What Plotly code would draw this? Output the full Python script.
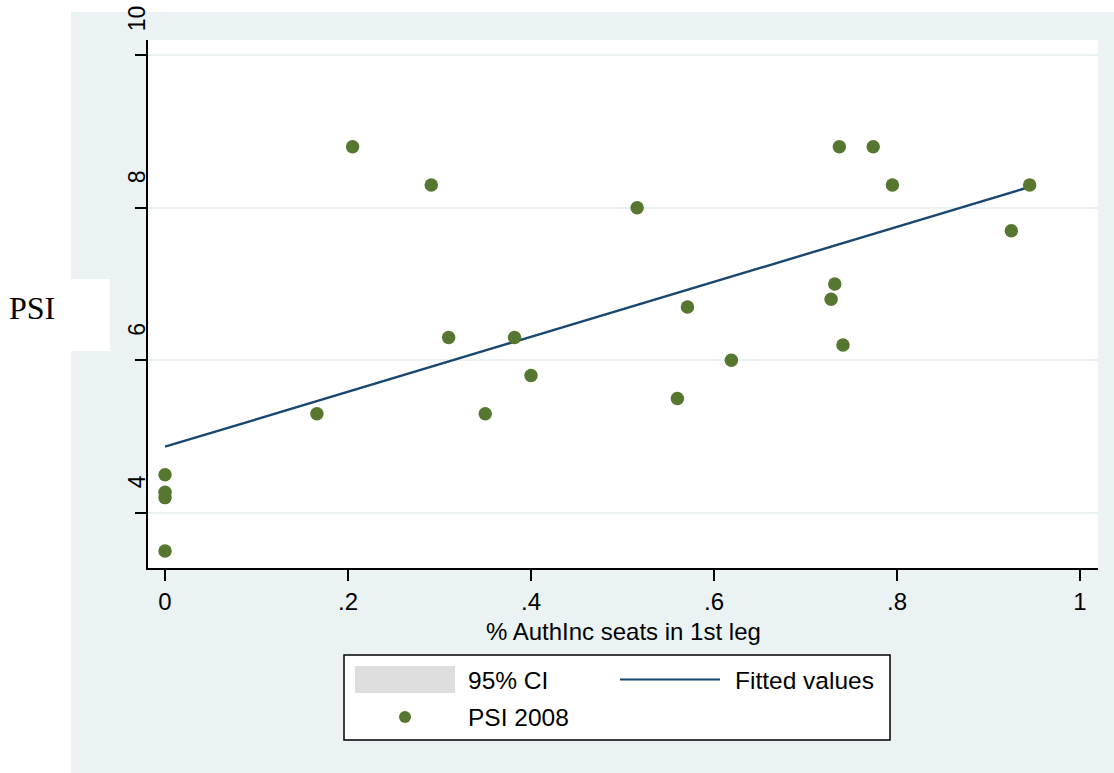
import numpy as np
import plotly.graph_objects as go

# Share of authoritarian-incumbent seats in the first legislature, and PSI 2008
auth_share = [0.0, 0.0, 0.0, 0.0, 0.166, 0.205, 0.291, 0.310, 0.350, 0.382, 0.400,
              0.516, 0.560, 0.571, 0.619, 0.728, 0.732, 0.737, 0.741, 0.774,
              0.795, 0.925, 0.945]
psi_2008 = [4.5, 4.27, 4.2, 3.5, 5.3, 8.8, 8.3, 6.3, 5.3, 6.3, 5.8,
            8.0, 5.5, 6.7, 6.0, 6.8, 7.0, 8.8, 6.2, 8.8,
            8.3, 7.7, 8.3]

x_ticks = [0, 0.2, 0.4, 0.6, 0.8, 1.0]
x_ticktext = ["0", ".2", ".4", ".6", ".8", "1"]
y_ticks = [4, 6, 8, 10]
y_ticktext = ["4", "6", "8", "10"]

BG = "#EAF2F3"
GREEN = "#56772F"
NAVY = "#1A476F"
FONT = "Liberation Sans, Arial, sans-serif"

W, H = 1114, 773
L, R, T, B = 148, 16, 40, 205
PW, PH = W - L - R, H - T - B


def px(xp):
    return (xp - L) / PW


def py(yp):
    return (H - B - yp) / PH


# Least-squares fit of PSI on seat share
slope, intercept = np.polyfit(auth_share, psi_2008, 1)
fit_x = np.linspace(min(auth_share), max(auth_share), 60)
fit_y = intercept + slope * fit_x

fig = go.Figure()
fig.add_trace(go.Scatter(x=fit_x, y=fit_y, mode="lines",
                         line=dict(color=NAVY, width=2.4),
                         name="Fitted values", showlegend=False,
                         hoverinfo="skip"))
fig.add_trace(go.Scatter(x=auth_share, y=psi_2008, mode="markers",
                         marker=dict(color=GREEN, size=13.5, symbol="circle"),
                         name="PSI 2008", showlegend=False))

shapes = [
    # outer graph region
    dict(type="rect", xref="paper", yref="paper", x0=px(71), x1=px(W + 2),
         y0=py(12), y1=py(H + 2), fillcolor=BG, line_width=0, layer="below"),
    # plot region
    dict(type="rect", xref="paper", yref="paper", x0=0, x1=1, y0=0, y1=1,
         fillcolor="white", line_width=0, layer="below"),
    # box behind the y title
    dict(type="rect", xref="paper", yref="paper", x0=px(-2), x1=px(110),
         y0=py(279), y1=py(351), fillcolor="white", line_width=0, layer="below"),
    # legend frame
    dict(type="rect", xref="paper", yref="paper", x0=px(344), x1=px(890),
         y0=py(655), y1=py(740), fillcolor="white",
         line=dict(color="black", width=1.5)),
    # CI swatch
    dict(type="rect", xref="paper", yref="paper", x0=px(355), x1=px(455),
         y0=py(666), y1=py(693), fillcolor="#DEDEDE", line_width=0),
    # fitted line key
    dict(type="line", xref="paper", yref="paper", x0=px(620), x1=px(720),
         y0=py(679.5), y1=py(679.5), line=dict(color=NAVY, width=2)),
    # marker key
    dict(type="circle", xref="paper", yref="paper", x0=px(399), x1=px(411),
         y0=py(711), y1=py(723), fillcolor=GREEN, line_width=0),
]

annotations = []
for v, t in zip(y_ticks, y_ticktext):
    annotations.append(dict(x=px(137), y=v, xref="paper", yref="y", text=t,
                            textangle=-90, showarrow=False, xanchor="center",
                            yanchor="bottom", yshift=22,
                            font=dict(family=FONT, size=23, color="black")))

annotations += [
    dict(x=px(32), y=py(308), xref="paper", yref="paper", text="PSI",
         showarrow=False, xanchor="center", yanchor="middle",
         font=dict(family="Liberation Serif, Times New Roman, serif", size=32,
                   color="black")),
    dict(x=0.5, y=py(631), xref="paper", yref="paper",
         text="% AuthInc seats in 1st leg", showarrow=False,
         xanchor="center", yanchor="middle",
         font=dict(family=FONT, size=24, color="black")),
    dict(x=px(466), y=py(680), xref="paper", yref="paper", text="95% CI",
         showarrow=False, xanchor="left", yanchor="middle",
         font=dict(family=FONT, size=24.5, color="black")),
    dict(x=px(733), y=py(680), xref="paper", yref="paper", text="Fitted values",
         showarrow=False, xanchor="left", yanchor="middle",
         font=dict(family=FONT, size=24.5, color="black")),
    dict(x=px(466), y=py(717), xref="paper", yref="paper", text="PSI 2008",
         showarrow=False, xanchor="left", yanchor="middle",
         font=dict(family=FONT, size=24.5, color="black")),
]

fig.update_layout(
    width=W, height=H,
    margin=dict(l=L, r=R, t=T, b=B, pad=0),
    paper_bgcolor="white", plot_bgcolor="white",
    showlegend=False,
    shapes=shapes, annotations=annotations,
    font=dict(family=FONT, size=24, color="black"),
)
fig.update_xaxes(range=[-0.0186, 1.0197], tickvals=x_ticks, ticktext=x_ticktext,
                 showgrid=False, zeroline=False, showline=True,
                 linecolor="black", linewidth=1.6, ticks="outside", ticklen=11,
                 tickwidth=1.5, tickcolor="black", ticklabelstandoff=0,
                 tickfont=dict(family=FONT, size=24, color="black"))
fig.update_yaxes(range=[3.277, 10.2], tickvals=y_ticks, showticklabels=False,
                 showgrid=True, gridcolor=BG, gridwidth=1.6, zeroline=False,
                 showline=True, linecolor="black", linewidth=1.6,
                 ticks="outside", ticklen=11, tickwidth=1.5, tickcolor="black")

fig.write_html("out.html")
